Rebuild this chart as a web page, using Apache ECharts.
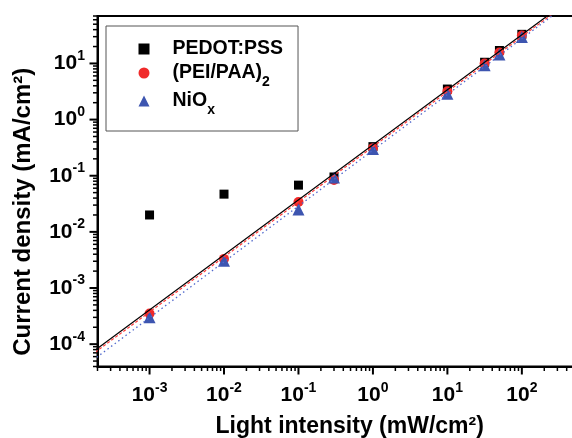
<!DOCTYPE html>
<html><head><meta charset="utf-8">
<script src="https://cdn.jsdelivr.net/npm/echarts@6/dist/echarts.min.js"></script>
<style>html,body{margin:0;padding:0;background:#fff}#c{width:572px;height:438px}</style>
</head><body><div id="c"></div>
<script>
// ---- data ----
const intensity = [0.001, 0.01, 0.1, 0.3, 1, 10, 31.6, 50, 100];
const pedotPss  = [0.02, 0.047, 0.068, 0.095, 0.33, 3.5, 10.5, 17, 33];
const peiPaa2   = [3.5e-4, 3.3e-3, 0.034, 0.084, 0.31, 3.2, 10, 15.7, 31.5];
const niOx      = [3.0e-4, 3.05e-3, 0.025, 0.093, 0.30, 2.9, 9.3, 14.5, 29.5];
// fitted lines: endpoints (clipped by the plot)
const fitX      = [1e-4, 1e3];
const fitPedot  = [4.28e-5, 310];
const fitPei    = [3.9e-5, 288];
const fitNiO    = [3.0e-5, 273];
// axis ranges and tick labels (exponents of 10)
const xRange = [2e-4, 500];
const yRange = [4e-5, 70];
const xTickExp = ['-3', '-2', '-1', '0', '1', '2'];
const yTickExp = ['-4', '-3', '-2', '-1', '0', '1'];
const seriesNames = ['PEDOT:PSS', '(PEI/PAA)2', 'NiOx'];
const legendLabels = ['PEDOT:PSS', '(PEI/PAA){sub|2}', 'NiO{sub|x}'];

const FONT = '"Liberation Sans", Arial, sans-serif';
const pairs = (xs, ys) => xs.map((x, i) => [x, ys[i]]);

function expLabel(list) {
  return function (v) {
    const l = Math.log10(v), e = Math.round(l);
    if (Math.abs(l - e) > 1e-6) return '';
    const s = String(e);
    return list.indexOf(s) >= 0 ? '{b|10}{s|' + s + '}' : '';
  };
}
const labelRich = {
  b: { fontFamily: FONT, fontWeight: 'bold', fontSize: 21, lineHeight: 24, color: '#000' },
  s: { fontFamily: FONT, fontWeight: 'bold', fontSize: 14, height: 9, lineHeight: 9, verticalAlign: 'top', color: '#000' }
};

const chart = echarts.init(document.getElementById('c'), null, { renderer: 'canvas' });

function tickRender(params, api) {
  const children = [];
  const pushLine = (x1, y1, x2, y2, w) => children.push({
    type: 'line', shape: { x1, y1, x2, y2 }, style: { stroke: '#000', lineWidth: w }
  });
  for (let d = -6; d <= 3; d++) {
    for (let m = 1; m <= 9; m++) {
      const v = m * Math.pow(10, d);
      const len = m === 1 ? 8 : 4.5, w = m === 1 ? 2 : 1.5;
      if (v >= xRange[0] * 0.999 && v <= xRange[1] * 1.001) {
        const p = api.coord([v, yRange[0]]);
        pushLine(p[0], p[1], p[0], p[1] + len, w);
      }
      if (v >= yRange[0] * 0.999 && v <= yRange[1] * 1.001) {
        const p = api.coord([xRange[0], v]);
        pushLine(p[0], p[1], p[0] - len, p[1], w);
      }
    }
  }
  return { type: 'group', children };
}

chart.setOption({
  animation: false,
  backgroundColor: '#fff',
  grid: {
    left: 97.5, top: 16, width: 476.4, height: 350.5,
    outerBoundsMode: 'none', containLabel: false,
    show: true, borderColor: '#000', borderWidth: 2
  },
  xAxis: {
    type: 'log', logBase: 10, min: xRange[0], max: xRange[1],
    name: 'Light intensity (mW/cm²)', nameLocation: 'middle', nameGap: 49,
    nameTextStyle: { fontFamily: FONT, fontWeight: 'bold', fontSize: 23, color: '#000', padding: [0, 0, 0, 28] },
    axisLine: { lineStyle: { color: '#000', width: 2 } },
    axisTick: { show: false }, minorTick: { show: false },
    splitLine: { show: false },
    axisLabel: { formatter: expLabel(xTickExp), rich: labelRich, margin: 17, showMinLabel: false, showMaxLabel: false }
  },
  yAxis: {
    type: 'log', logBase: 10, min: yRange[0], max: yRange[1],
    name: 'Current density (mA/cm²)', nameLocation: 'middle', nameGap: 62, nameRotate: 90,
    nameTextStyle: { fontFamily: FONT, fontWeight: 'bold', fontSize: 24, color: '#000', padding: [0, 41, 0, 0] },
    axisLine: { lineStyle: { color: '#000', width: 2 } },
    axisTick: { show: false }, minorTick: { show: false },
    splitLine: { show: false },
    axisLabel: { formatter: expLabel(yTickExp), rich: labelRich, margin: 12.5, showMinLabel: false, showMaxLabel: false }
  },
  legend: {
    orient: 'vertical', left: 106, top: 26,
    padding: [11, 15, 14, 32.5],
    itemWidth: 11, itemHeight: 11, itemGap: 0,
    borderColor: '#555', borderWidth: 1,
    data: [
      { name: seriesNames[0], icon: 'rect', itemStyle: { opacity: 1 } },
      { name: seriesNames[1], icon: 'circle', itemStyle: { opacity: 1 } },
      { name: seriesNames[2], icon: 'triangle', itemStyle: { opacity: 1 } }
    ],
    formatter: name => legendLabels[seriesNames.indexOf(name)],
    textStyle: {
      fontFamily: FONT, fontWeight: 'bold', fontSize: 19.5, lineHeight: 24, color: '#000',
      padding: [0, 0, 0, 18],
      rich: { sub: { fontFamily: FONT, fontWeight: 'bold', fontSize: 14, height: 6, lineHeight: 6, verticalAlign: 'bottom', color: '#000' } }
    }
  },
  series: [
    { type: 'custom', renderItem: tickRender, data: [[1, 1]], silent: true, clip: false, z: 5 },
    { name: seriesNames[0], type: 'scatter', symbol: 'rect', symbolSize: 9, itemStyle: { color: '#000', opacity: 1 }, data: pairs(intensity, pedotPss), z: 2 },
    { name: seriesNames[1], type: 'scatter', symbol: 'circle', symbolSize: 10, itemStyle: { color: '#f02a2a', opacity: 1 }, data: pairs(intensity, peiPaa2), z: 3 },
    { name: seriesNames[2], type: 'scatter', symbol: 'triangle', symbolSize: 12, itemStyle: { color: '#3d55b0', opacity: 1 }, data: pairs(intensity, niOx), z: 4 },
    { name: 'fit1', type: 'line', data: pairs(fitX, fitPedot), showSymbol: false, symbol: 'none', lineStyle: { color: '#000', width: 1.2 }, z: 6 },
    { name: 'fit2', type: 'line', data: pairs(fitX, fitPei), showSymbol: false, symbol: 'none', lineStyle: { color: '#ff3b3b', width: 1.2, type: [3, 2] }, z: 6 },
    { name: 'fit3', type: 'line', data: pairs(fitX, fitNiO), showSymbol: false, symbol: 'none', lineStyle: { color: '#5068cc', width: 1.3, type: [1.5, 3] }, z: 6 }
  ]
});
</script>
</body></html>
